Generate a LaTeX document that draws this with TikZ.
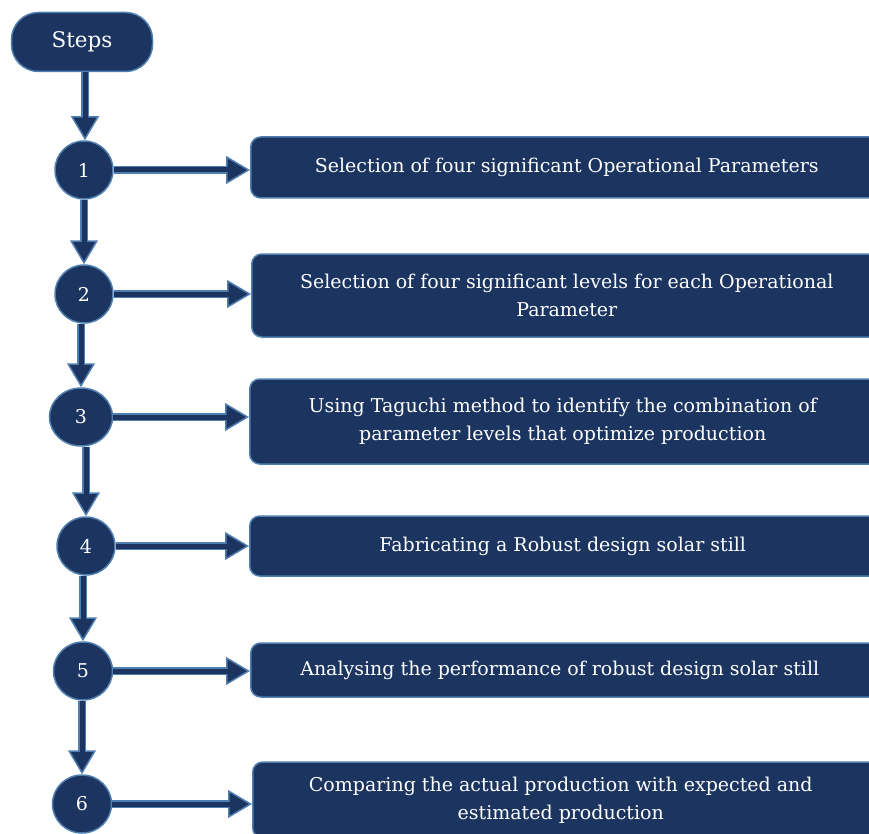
\documentclass[tikz,border=0pt]{standalone}
\usepackage{fontspec}
\setmainfont{DejaVu Serif}
\usetikzlibrary{arrows.meta,shapes.geometric}
\definecolor{navy}{HTML}{1C3560}
\definecolor{edgeblue}{HTML}{4F7FB0}
\tikzset{
  numnode/.style={ellipse, fill=navy, draw=edgeblue, line width=1.5pt, inner sep=0pt,
    text=white, font=\fontsize{19}{24}\selectfont},
  stepbox/.style={rectangle, rounded corners=10pt, fill=navy, draw=edgeblue, line width=1.5pt,
    text=white, font=\fontsize{19}{28.5}\selectfont, align=center, anchor=west, inner sep=0pt,
    minimum width=660pt},
  startbox/.style={rectangle, rounded corners=27pt, fill=navy, draw=edgeblue, line width=1.5pt,
    text=white, font=\fontsize{21.5}{28}\selectfont, minimum width=141pt, minimum height=59pt},
}
\newcommand{\flowarrow}[2]{%
  \draw[line width=7.5pt, edgeblue, -{Triangle[length=24pt,width=28pt,line width=1.5pt,fill=navy]}] #1 -- #2;
  \draw[line width=5pt, navy, shorten >=20pt] #1 -- #2;}
\begin{document}
\begin{tikzpicture}[x=1pt,y=-1pt]
\useasboundingbox (0,0) rectangle (869,834);
\node[startbox] (steps) at (82,42) {Steps};
\node[numnode, minimum width=58pt, minimum height=58pt] (c1) at (84,170) {1};
\node[numnode, minimum width=58pt, minimum height=58pt] (c2) at (84,294) {2};
\node[numnode, minimum width=63pt, minimum height=58pt] (c3) at (81,417) {3};
\node[numnode, minimum width=58pt, minimum height=58pt] (c4) at (86,546) {4};
\node[numnode, minimum width=59pt, minimum height=58pt] (c5) at (83,671) {5};
\node[numnode, minimum width=59pt, minimum height=58pt] (c6) at (82,804) {6};

\node[stepbox, minimum height=61pt] (b1) at (250,167.5) {Selection of four significant Operational Parameters\hspace*{28pt}};
\node[stepbox, minimum height=83pt] (b2) at (251,295.5) {Selection of four significant levels for each Operational\hspace*{30pt}\\Parameter\hspace*{30pt}};
\node[stepbox, minimum height=85pt] (b3) at (249,421.5) {Using Taguchi method to identify the combination of\hspace*{34pt}\\parameter levels that optimize production\hspace*{34pt}};
\node[stepbox, minimum height=60pt] (b4) at (249,546) {Fabricating a Robust design solar still\hspace*{34pt}};
\node[stepbox, minimum height=54pt] (b5) at (250,670) {Analysing the performance of robust design solar still\hspace*{42pt}};
\node[stepbox, minimum height=76pt] (b6) at (252,800) {Comparing the actual production with expected and\hspace*{44pt}\\estimated production\hspace*{44pt}};

\flowarrow{(steps.south -| 85,0)}{(c1.north -| 85,0)}
\flowarrow{(c1.south)}{(c2.north)}
\flowarrow{(c2.south -| c3.north)}{(c3.north)}
\flowarrow{(c3.south -| c4.north)}{(c4.north)}
\flowarrow{(c4.south -| c5.north)}{(c5.north)}
\flowarrow{(c5.south -| c6.north)}{(c6.north)}

\flowarrow{(c1.east)}{(c1.east -| b1.west)}
\flowarrow{(c2.east)}{(c2.east -| b2.west)}
\flowarrow{(c3.east)}{(c3.east -| b3.west)}
\flowarrow{(c4.east)}{(c4.east -| b4.west)}
\flowarrow{(c5.east)}{(c5.east -| b5.west)}
\flowarrow{(c6.east)}{(c6.east -| b6.west)}
\end{tikzpicture}
\end{document}
